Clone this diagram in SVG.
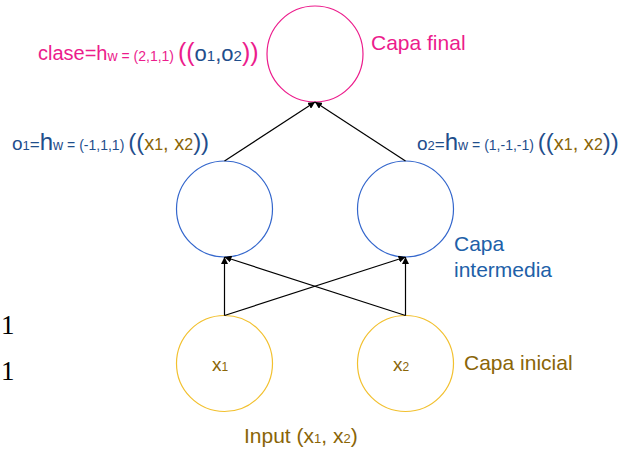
<svg xmlns="http://www.w3.org/2000/svg" width="625" height="451" viewBox="0 0 625 451">
<style>
text{font-family:"Liberation Sans",Arial,sans-serif}
.pk{fill:#EC1C8C}
.bl{fill:#1F4E8C}
.bl2{fill:#2060A8}
.gd{fill:#8A6508}
.c{fill:#fff;stroke-width:1.2}
.conn line{stroke:#000;stroke-width:1.2;marker-end:url(#ah)}
.serif{font-family:"Liberation Serif","Times New Roman",serif;fill:#000}
</style>
<defs>
<marker id="ah" viewBox="0 0 10 10" refX="10" refY="5" markerWidth="7" markerHeight="7" orient="auto" markerUnits="userSpaceOnUse">
<path d="M0,0 L10,5 L0,10 z" fill="#000"/>
</marker>
</defs>
<rect width="625" height="451" fill="#fff"/>
<g id="final">
<circle class="c" cx="315" cy="54" r="48" stroke="#EC1C8C"/>
<text x="371" y="50" font-size="21" class="pk">Capa final</text>
<text x="38" y="60" class="pk"><tspan font-size="20">clase=h</tspan><tspan font-size="14" dy="1">w = (2,1,1) </tspan><tspan font-size="25">((</tspan><tspan class="bl" font-size="22">o</tspan><tspan class="bl" font-size="15">1</tspan><tspan class="bl" font-size="22">,o</tspan><tspan class="bl" font-size="15">2</tspan><tspan font-size="25">))</tspan></text>
</g>
<g id="hidden1">
<circle class="c" cx="224.5" cy="209" r="48" stroke="#3366CC"/>
<text x="12" y="150" class="bl"><tspan font-size="19">o</tspan><tspan font-size="13">1</tspan><tspan font-size="17">=</tspan><tspan font-size="24">h</tspan><tspan font-size="14">w = (-1,1,1) </tspan><tspan font-size="24">((</tspan><tspan class="gd" font-size="20">x</tspan><tspan class="gd" font-size="16">1</tspan><tspan class="gd" font-size="20">, x</tspan><tspan class="gd" font-size="16">2</tspan><tspan font-size="24">))</tspan></text>
</g>
<g id="hidden2">
<circle class="c" cx="405.5" cy="209" r="48" stroke="#3366CC"/>
<text x="417" y="150" class="bl"><tspan font-size="19">o</tspan><tspan font-size="13">2</tspan><tspan font-size="17">=</tspan><tspan font-size="24">h</tspan><tspan font-size="14">w = (1,-1,-1) </tspan><tspan font-size="24">((</tspan><tspan class="gd" font-size="20">x</tspan><tspan class="gd" font-size="16">1</tspan><tspan class="gd" font-size="20">, x</tspan><tspan class="gd" font-size="16">2</tspan><tspan font-size="24">))</tspan></text>
<text x="454" y="251" font-size="21" class="bl2">Capa</text>
<text x="454" y="277" font-size="21" class="bl2">intermedia</text>
</g>
<g id="input1">
<circle class="c" cx="224.5" cy="363.5" r="48" stroke="#F2C02E"/>
<text x="212" y="371" class="gd"><tspan font-size="19">x</tspan><tspan font-size="12">1</tspan></text>
</g>
<g id="input2">
<circle class="c" cx="405.5" cy="363.5" r="48" stroke="#F2C02E"/>
<text x="393" y="371" class="gd"><tspan font-size="19">x</tspan><tspan font-size="12">2</tspan></text>
<text x="464" y="370" font-size="21" class="gd">Capa inicial</text>
</g>
<g id="inputlabel">
<text x="244" y="443" class="gd"><tspan font-size="21">Input (x</tspan><tspan font-size="13">1</tspan><tspan font-size="21">, x</tspan><tspan font-size="13">2</tspan><tspan font-size="21">)</tspan></text>
</g>
<g id="ones">
<text x="1" y="334" font-size="27" class="serif">1</text>
<text x="1" y="380" font-size="27" class="serif">1</text>
</g>
<g class="conn" id="connectors">
<line x1="224.5" y1="315.5" x2="224.5" y2="257"/>
<line x1="224.5" y1="315.5" x2="405.5" y2="257"/>
<line x1="405.5" y1="315.5" x2="224.5" y2="257"/>
<line x1="405.5" y1="315.5" x2="405.5" y2="257"/>
<line x1="224.5" y1="161" x2="315" y2="102"/>
<line x1="405.5" y1="161" x2="315" y2="102"/>
</g>
</svg>
